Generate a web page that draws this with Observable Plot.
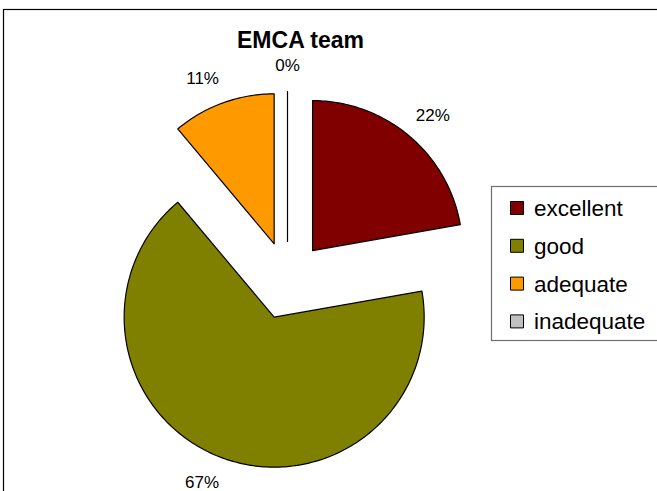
<!DOCTYPE html>
<html><head><meta charset="utf-8">
<script src="https://cdn.jsdelivr.net/npm/d3@7"></script>
<script src="https://cdn.jsdelivr.net/npm/@observablehq/plot@0.6"></script>
<style>
body{margin:0;background:#fff}
#chart{position:relative;width:657px;height:491px;overflow:hidden}
#chart svg{display:block;font-family:"Liberation Sans",Arial,sans-serif}
</style>
</head><body><div id="chart"></div>
<script>
const categories = ["excellent", "good", "adequate", "inadequate"];
const counts = [2, 6, 1, 0];
const colors = ["#800000", "#808000", "#FF9900", "#C0C0C0"];
const title = "EMCA team";

const W = 657, H = 491;
const cx = 287, cy = 280, R = 150, explode = 39;
const FONT = '"Liberation Sans", Arial, sans-serif';
const total = d3.sum(counts);

let acc = 0;
const slices = categories.map((c, i) => {
  const a0 = acc / total * 2 * Math.PI; acc += counts[i];
  const a1 = acc / total * 2 * Math.PI;
  return {key: c, value: counts[i], a0, a1, mid: (a0 + a1) / 2,
          pct: Math.round(counts[i] / total * 100) + "%"};
});

const ctx = document.createElement("canvas").getContext("2d");
ctx.font = "17px " + FONT;

const pts = [];
const labels = [];
for (const s of slices) {
  const ox = cx + explode * Math.sin(s.mid), oy = cy - explode * Math.cos(s.mid);
  pts.push({key: s.key, x: ox, y: oy});
  const n = Math.max(1, Math.ceil((s.a1 - s.a0) / (Math.PI / 180)));
  for (let k = 0; k <= n; k++) {
    const a = s.a0 + (s.a1 - s.a0) * k / n;
    pts.push({key: s.key, x: ox + R * Math.sin(a), y: oy - R * Math.cos(a)});
  }
  pts.push({key: s.key, x: ox, y: oy});
  const w = ctx.measureText(s.pct).width, h = 12;
  const sx = Math.sin(s.mid), sy = -Math.cos(s.mid);
  const px = ox + (R + 20) * sx, py = oy + (R + 20) * sy;
  const fx = sx < 0 ? 1.2 : 0.5;
  labels.push({text: s.pct, x: px + sx * w * fx, y: py + sy * h / 2});
}

const legendItems = categories.map((c, i) => ({key: c, i}));
const lgX = 491.5, lgY = 186.5, lgStep = 37.8;

const plot = Plot.plot({
  width: W, height: H,
  marginTop: 0, marginRight: 0, marginBottom: 0, marginLeft: 0,
  x: {domain: [0, W], range: [0, W], axis: null},
  y: {domain: [0, H], range: [0, H], axis: null},
  color: {domain: categories, range: colors},
  style: {fontFamily: FONT, background: "white"},
  marks: [
    Plot.rect([0], {x1: 3.5, x2: W + 10, y1: 9.5, y2: H + 10, fill: "none", stroke: "black", strokeWidth: 1.2}),
    Plot.line(pts, {x: "x", y: "y", z: "key", fill: "key", stroke: "black", strokeWidth: 1.2, curve: "linear"}),
    Plot.text(labels, {x: "x", y: "y", text: "text", fontSize: 17, lineAnchor: "middle", textAnchor: "middle", fill: "black"}),
    Plot.rect([0], {x1: lgX, x2: W + 10, y1: lgY, y2: lgY + 154, fill: "white", stroke: "#6e6e6e", strokeWidth: 1.2}),
    Plot.dot(legendItems, {x: lgX + 25, y: d => lgY + 21 + d.i * lgStep, symbol: "square", r: 13 / Math.sqrt(Math.PI), fill: "key", stroke: "black", strokeWidth: 1}),
    Plot.text(legendItems, {x: lgX + 42, y: d => lgY + 29 + d.i * lgStep, text: "key", fontSize: 22.5, textAnchor: "start", lineAnchor: "bottom", fill: "black"}),
    Plot.text([title], {x: 300, y: 47, text: d => d, fontSize: 23, fontWeight: "bold", textAnchor: "middle", lineAnchor: "bottom", fill: "black"})
  ]
});
document.getElementById("chart").appendChild(plot);
</script>
</body></html>
